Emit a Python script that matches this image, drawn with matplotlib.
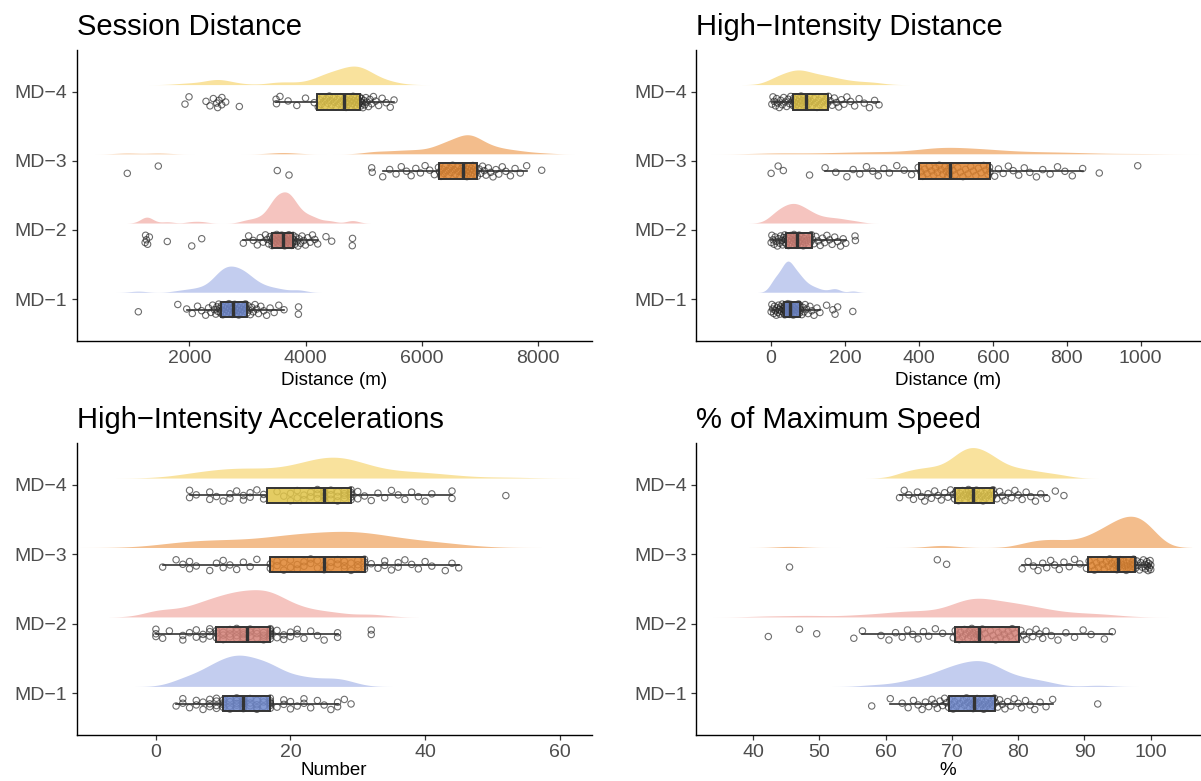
import numpy as np
import matplotlib
matplotlib.use("Agg")
import matplotlib.pyplot as plt

plt.rcParams['font.family'] = ['Liberation Sans', 'DejaVu Sans']

categories = ["MD−1", "MD−2", "MD−3", "MD−4"]
panel_titles = ["Session Distance", "High−Intensity Distance",
                "High−Intensity Accelerations", "% of Maximum Speed"]
x_labels = ["Distance (m)", "Distance (m)", "Number", "%"]
x_ticks = [[2000, 4000, 6000, 8000], [0, 200, 400, 600, 800, 1000],
           [0, 20, 40, 60], [40, 50, 60, 70, 80, 90, 100]]
x_limits = [(55, 8935), (-204, 1160), (-11.8, 64.8), (31.35, 107.4)]

# ---------------- Session Distance (m) ----------------
session_md1 = [1120, 1800,
    1953, 2050, 2140, 2210, 2280, 2330, 2370, 2400, 2430, 2455, 2475, 2490, 2505, 2520, 2535, 2550,
    2560, 2575, 2590, 2600, 2615, 2630, 2640, 2650, 2665, 2680, 2690, 2700, 2715, 2725, 2740, 2750,
    2765, 2780, 2790, 2805, 2820, 2835, 2850, 2860, 2875, 2890, 2905, 2920, 2935, 2950, 2965, 2980,
    2995, 3010, 3030, 3050, 3075, 3100, 3130, 3160, 3190, 3230, 3280, 3330, 3390, 3460, 3540, 3630,
    3877, 3880]
session_md2 = [1237, 1245, 1260, 1280, 1310, 1619, 2040, 2212,
    2929, 3020, 3100, 3170, 3220, 3270, 3310, 3340, 3365, 3390, 3410,
    3425, 3435, 3445, 3455, 3465, 3475, 3485, 3495, 3505, 3515, 3525, 3535, 3545, 3555, 3565, 3575, 3590, 3600, 3612,
    3625, 3633, 3641, 3650, 3660, 3668, 3676, 3685, 3694, 3703, 3712, 3720, 3730, 3740, 3750, 3760, 3770, 3778, 3786,
    3800, 3815, 3830, 3850, 3870, 3890, 3915, 3940, 3970, 4000, 4040, 4080, 4120, 4160, 4210,
    4353, 4451, 4806, 4810]
session_md3 = [930, 1464, 3514, 3716, 5140, 5150,
    5330, 5450, 5560, 5650, 5740, 5820, 5900, 5980, 6060, 6140, 6220, 6290,
    6310, 6335, 6360, 6385, 6410, 6435, 6460, 6485, 6510, 6535, 6560, 6585, 6610, 6635, 6660, 6685, 6705,
    6718, 6730, 6742, 6755, 6768, 6780, 6792, 6805, 6818, 6830, 6843, 6856, 6870, 6883, 6896, 6910, 6925, 6940,
    6960, 6990, 7020, 7050, 7080, 7110, 7150, 7190, 7230, 7280, 7330, 7390, 7450, 7530, 7610, 7700, 7810,
    8069]
session_md4 = [1924, 1993, 2286, 2355, 2412, 2470, 2487, 2510, 2557, 2560, 2625, 2860,
    3493, 3500, 3560, 3700, 3850, 4000, 4150,
    4220, 4245, 4270, 4290, 4315, 4340, 4360, 4385, 4410, 4430, 4455, 4480, 4500, 4525, 4550, 4575, 4600, 4625, 4650,
    4670, 4685, 4700, 4715, 4730, 4745, 4760, 4775, 4790, 4805, 4820, 4835, 4850, 4865, 4880, 4895, 4910, 4920, 4932,
    4945, 4955, 4965, 4975, 4990, 5005, 5020, 5040, 5060, 5085, 5110, 5140, 5170, 5210, 5260, 5320, 5390, 5460, 5525]

# ---------------- High-Intensity Distance (m) ----------------
hid_md1 = [0, 2, 4, 7, 9, 12, 14, 16, 18, 20, 22, 24, 26, 28, 30, 32, 34, 35,
    36, 37, 38, 39, 40, 41, 42, 43, 44, 45, 46, 47, 48, 49, 50, 50, 51,
    52, 54, 55, 57, 58, 60, 61, 63, 65, 66, 68, 70, 72, 74, 75, 77, 78,
    80, 83, 86, 89, 92, 96, 100, 105, 110, 116, 124, 132,
    150, 167, 173, 180, 221]
hid_md2 = [0, 2, 5, 8, 11, 14, 17, 20, 23, 26, 29, 31, 33, 35, 37, 39, 41,
    43, 45, 47, 49, 51, 53, 55, 57, 59, 61, 62, 64, 66, 67, 69, 70,
    72, 74, 76, 78, 80, 83, 85, 87, 90, 92, 95, 98, 101, 104, 107, 109,
    112, 116, 121, 127, 133, 139, 145, 151, 158, 165, 172, 180, 188, 195, 202,
    227, 228]
hid_md3 = [0, 19, 33, 104,
    146, 175, 205, 222, 240, 258, 275, 290, 305, 320, 340, 360, 380, 398,
    405, 410, 416, 422, 428, 434, 440, 445, 450, 455, 460, 465, 470, 474, 478, 481, 483,
    486, 492, 498, 505, 512, 519, 526, 533, 540, 547, 554, 561, 568, 575, 581, 587, 591,
    592, 605, 615, 628, 642, 655, 670, 685, 700, 718, 735, 755, 775, 795, 815, 843,
    888, 992]
hid_md4 = [2, 5, 8, 12, 15, 18, 22, 26, 30, 34, 38, 42, 46, 50, 53, 57,
    59, 61, 63, 65, 67, 69, 71, 73, 75, 77, 79, 81, 84, 87, 90, 93,
    95, 98, 101, 104, 108, 112, 116, 120, 124, 128, 132, 136, 140, 144, 148, 152,
    155, 160, 165, 171, 177, 183, 190, 197, 205, 215, 226, 238, 252, 266, 280, 292]

# ---------------- High-Intensity Accelerations (count) ----------------
hia_md1 = [3, 4, 4, 5, 6, 6, 7, 7, 8, 8, 8, 9, 9, 9, 9, 10,
    10, 10, 10, 11, 11, 11, 11, 12, 12, 12, 12, 12, 13, 13, 13, 13, 13,
    13, 14, 14, 14, 15, 15, 15, 15, 16, 16, 16, 17, 17, 17, 17, 17,
    17, 18, 19, 19, 20, 20, 21, 22, 22, 23, 24, 25, 26, 27, 27,
    28, 29]
hia_md2 = [0, 0, 0, 1, 2, 4, 4, 5, 6, 6, 7, 7, 8, 8, 8, 9,
    9, 9, 10, 10, 10, 11, 11, 11, 12, 12, 12, 12, 13, 13, 13, 13, 13,
    14, 14, 14, 15, 15, 15, 16, 16, 16, 16, 17, 17, 17, 17, 17, 17,
    17, 18, 18, 19, 19, 20, 20, 21, 21, 22, 23, 24, 25, 27, 27,
    32, 32]
hia_md3 = [1, 3, 4, 5, 5, 6, 8, 9, 10, 10, 11, 12, 13, 14, 15, 17,
    17, 18, 18, 19, 19, 20, 20, 21, 21, 22, 22, 23, 23, 24, 24, 25,
    25, 26, 26, 27, 27, 28, 28, 28, 29, 29, 30, 30, 30, 31, 31, 31,
    31, 32, 33, 34, 34, 35, 36, 36, 37, 38, 39, 40, 41, 43, 44, 45]
hia_md4 = [5, 5, 6, 8, 8, 9, 10, 11, 11, 12, 13, 13, 14, 14, 15, 16,
    16, 18, 19, 20, 20, 21, 21, 22, 22, 23, 23, 24, 24, 24, 25, 25, 25,
    25, 25, 26, 26, 26, 27, 27, 27, 28, 28, 28, 28, 29, 29, 29, 29,
    29, 30, 30, 31, 32, 33, 34, 35, 36, 37, 38, 39, 40, 41, 44, 44,
    52]

# ---------------- % of Maximum Speed ----------------
speed_md1 = [57.9,
    60.7, 62.5, 63.4, 64.2, 64.9, 65.5, 66.0, 66.5, 67.0, 67.4, 67.8, 68.2, 68.6, 68.9, 69.2, 69.5,
    69.7, 69.9, 70.2, 70.4, 70.7, 70.9, 71.2, 71.4, 71.7, 71.9, 72.2, 72.4, 72.6, 72.8, 73.0, 73.2,
    73.4, 73.6, 73.8, 74.0, 74.2, 74.4, 74.6, 74.8, 75.0, 75.2, 75.4, 75.6, 75.8, 76.0, 76.2, 76.4,
    76.6, 76.9, 77.2, 77.6, 78.0, 78.4, 78.9, 79.4, 80.0, 80.5, 81.1, 81.8, 82.5, 83.3, 84.2, 85.2,
    92.0]
speed_md2 = [42.3, 47.0, 49.6, 55.2,
    56.5, 59.3, 60.5, 61.5, 62.5, 63.3, 64.1, 64.9, 65.7, 66.5, 67.5, 68.6, 70.2,
    70.5, 70.8, 71.1, 71.3, 71.6, 71.9, 72.1, 72.4, 72.6, 72.8, 73.0, 73.2, 73.4, 73.6, 73.8, 73.9, 74.0,
    74.2, 74.6, 75.0, 75.4, 75.8, 76.2, 76.6, 77.0, 77.3, 77.6, 77.9, 78.2, 78.5, 78.8, 79.1, 79.5, 80.0,
    80.4, 80.8, 81.2, 81.7, 82.2, 82.7, 83.2, 83.7, 84.2, 85.0, 86.0, 87.2, 88.5, 89.8, 91.0, 93.0, 94.2]
speed_md3 = [45.5, 67.8, 69.2,
    80.6, 81.5, 82.3, 83.0, 83.7, 84.3, 84.9, 85.5, 86.2, 86.9, 87.7, 88.5, 89.3, 90.3,
    90.7, 91.1, 91.5, 91.8, 92.1, 92.4, 92.7, 93.0, 93.3, 93.6, 93.8, 94.1, 94.3, 94.5, 94.7, 94.9,
    95.0, 95.2, 95.4, 95.6, 95.7, 95.9, 96.1, 96.3, 96.4, 96.6, 96.7, 96.9, 97.0, 97.2, 97.3, 97.4, 97.5,
    97.7, 97.9, 98.1, 98.3, 98.5, 98.7, 98.9, 99.1, 99.2, 99.4, 99.5, 99.6, 99.7, 99.8, 99.9, 100.0, 100.0]
speed_md4 = [62.1, 62.8, 63.5, 64.2, 64.8, 65.4, 65.9, 66.4, 66.9, 67.4, 67.9, 68.4, 68.9, 69.4, 69.8, 70.2,
    70.4, 70.6, 70.8, 71.0, 71.2, 71.4, 71.6, 71.8, 72.0, 72.2, 72.4, 72.5, 72.7, 72.8, 72.9, 73.0, 73.1,
    73.3, 73.5, 73.7, 73.9, 74.1, 74.3, 74.5, 74.7, 74.9, 75.1, 75.3, 75.5, 75.7, 75.9, 76.1, 76.2,
    76.4, 76.8, 77.2, 77.6, 78.0, 78.5, 79.0, 79.5, 80.0, 80.6, 81.2, 81.9, 82.6, 83.4, 84.3,
    85.6, 86.9]

panels = [
    [session_md1, session_md2, session_md3, session_md4],
    [hid_md1, hid_md2, hid_md3, hid_md4],
    [hia_md1, hia_md2, hia_md3, hia_md4],
    [speed_md1, speed_md2, speed_md3, speed_md4],
]

density_colors = ["#c3cdef", "#f5c4bf", "#f3bd8c", "#f9e29d"]
box_colors = ["#6f88cc", "#d48278", "#e0842f", "#e0c448"]


def bw_nrd0(x):
    x = np.asarray(x, float)
    sd = np.std(x, ddof=1)
    q75, q25 = np.percentile(x, [75, 25])
    lo = min(sd, (q75 - q25) / 1.34)
    if lo <= 0:
        lo = sd if sd > 0 else 1.0
    return 0.9 * lo * len(x) ** -0.2


def kde(x):
    x = np.asarray(x, float)
    bw = bw_nrd0(x)
    grid = np.linspace(x.min() - 3 * bw, x.max() + 3 * bw, 512)
    d = np.exp(-0.5 * ((grid[:, None] - x[None, :]) / bw) ** 2).sum(axis=1)
    d /= len(x) * bw * np.sqrt(2 * np.pi)
    return grid, d


fig = plt.figure(figsize=(12.01, 7.81), dpi=100)
rects = [
    [0.0637, 0.5638, 0.4292, 0.3722],
    [0.5793, 0.5638, 0.4197, 0.3722],
    [0.0637, 0.0589, 0.4292, 0.3735],
    [0.5793, 0.0589, 0.4197, 0.3735],
]

DENS_OFF = 0.10
DENS_MAX = 0.45
BOX_OFF = -0.15
BOX_W = 0.22
JIT = 0.085

for p, groups in enumerate(panels):
    ax = fig.add_axes(rects[p])
    kdes = [kde(g) for g in groups]
    dmax = max(d.max() for _, d in kdes)
    for k, g in enumerate(groups):
        pos = k + 1
        grid, d = kdes[k]
        h = d / dmax * DENS_MAX
        ax.fill_between(grid, pos + DENS_OFF, pos + DENS_OFF + h,
                        color=density_colors[k], lw=0, zorder=1)
        vals = np.asarray(g, float)
        n = len(vals)
        jit = (((np.arange(n) * 0.6180339887 + 0.31) % 1.0) - 0.5) * 2 * JIT
        ax.scatter(vals, pos + BOX_OFF + jit, s=21, facecolors='none',
                   edgecolors=(0.12, 0.12, 0.12, 0.65), linewidths=0.8, zorder=2)
    bp = ax.boxplot(groups, positions=[k + 1 + BOX_OFF for k in range(4)],
                    widths=BOX_W, orientation='horizontal', patch_artist=True,
                    showfliers=False, showcaps=False, whis=1.5, manage_ticks=False,
                    boxprops=dict(edgecolor='#333333', linewidth=1.4),
                    medianprops=dict(color='#333333', linewidth=2.4),
                    whiskerprops=dict(color='#333333', linewidth=1.2),
                    zorder=3)
    for k, patch in enumerate(bp['boxes']):
        patch.set_facecolor(matplotlib.colors.to_rgba(box_colors[k], 0.85))

    ax.set_xlim(*x_limits[p])
    ax.set_ylim(0.4, 4.6)
    ax.set_yticks([1, 2, 3, 4])
    ax.set_yticklabels(categories)
    ax.set_xticks(x_ticks[p])
    ax.set_xticklabels([str(t) for t in x_ticks[p]])
    for side in ['top', 'right']:
        ax.spines[side].set_visible(False)
    for side in ['left', 'bottom']:
        ax.spines[side].set_color('black')
        ax.spines[side].set_linewidth(1.0)
    ax.tick_params(axis='both', colors='#333333', length=3.5, width=0.9,
                   labelsize=14, labelcolor='#4d4d4d', pad=3)
    ax.set_xlabel(x_labels[p], fontsize=13.5, color='black',
                  labelpad=4 if p < 2 else 1)
    ax.set_title(panel_titles[p], loc='left', fontsize=21, pad=11, color='black')

fig.savefig("out.png", dpi=100)
